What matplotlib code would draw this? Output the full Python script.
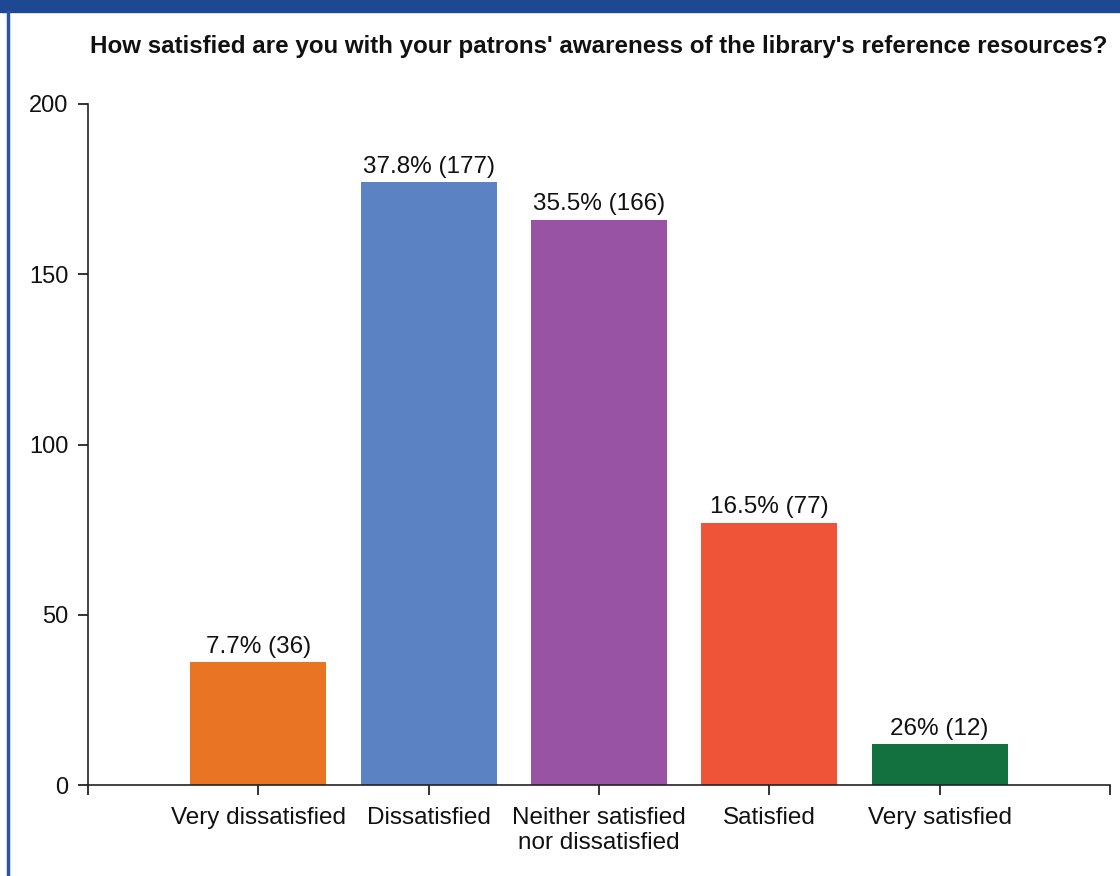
import matplotlib
matplotlib.use("Agg")
import matplotlib.pyplot as plt
from matplotlib.patches import Rectangle
from matplotlib.lines import Line2D

categories = ["Very dissatisfied", "Dissatisfied", "Neither satisfied\nnor dissatisfied", "Satisfied", "Very satisfied"]
counts = [36, 177, 166, 77, 12]
bar_labels = ["7.7% (36)", "37.8% (177)", "35.5% (166)", "16.5% (77)", "26% (12)"]
colors = ["#E87424", "#5B82C2", "#9853A4", "#EF5438", "#12713E"]
title = "How satisfied are you with your patrons' awareness of the library's reference resources?"

plt.rcParams['font.family'] = ['Liberation Sans', 'DejaVu Sans']

W, H = 1120, 876
fig = plt.figure(figsize=(W/100, H/100), dpi=100)
fig.patch.set_facecolor("white")

# header bar and left border
fig.add_artist(Rectangle((0, 1 - 12/H), 1, 12/H, transform=fig.transFigure, color="#1E4892", zorder=0))
fig.add_artist(Line2D([8/W, 8/W], [0, 1 - 12/H], transform=fig.transFigure, color="#2A55A0", lw=2.5))

ax = fig.add_axes([88/W, (H-785)/H, (1110-88)/W, (785-104)/H])
x = list(range(len(categories)))
bars = ax.bar(x, counts, width=0.8, color=colors)
for xi, c, lab in zip(x, counts, bar_labels):
    ax.text(xi, c + 1.3, lab, ha="center", va="bottom", fontsize=17.5, color="#111111")

ax.set_xlim(-1, 5)
ax.set_ylim(0, 200)
ax.set_yticks([0, 50, 100, 150, 200])
ax.set_xticks([-1] + x + [5])
ax.set_xticklabels([""] + categories + [""], linespacing=1.2)
ax.tick_params(axis="both", labelsize=17.5, colors="#111111", length=7, width=1.2, direction="out")
ax.tick_params(axis="x", pad=8.5)
ax.tick_params(axis="y", pad=7, labelsize=17)
for s in ["top", "right"]:
    ax.spines[s].set_visible(False)
for s in ["left", "bottom"]:
    ax.spines[s].set_linewidth(1.2)
    ax.spines[s].set_color("#222222")

fig.text(599/W, 1 - 46/H, title, ha="center", va="center", fontsize=17.4, fontweight="bold", color="#111111")

fig.savefig("out.png", dpi=100)
